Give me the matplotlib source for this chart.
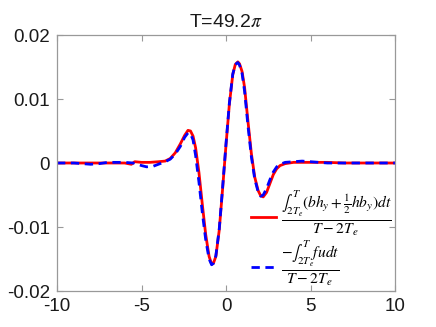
import matplotlib
matplotlib.use("Agg")
import matplotlib.pyplot as plt

# ---- data ----
x_red = [-10, -8, -6.5, -6, -5.6, -5.4, -5.0, -4.5, -4.0, -3.6, -3.3, -3.0, -2.7, -2.45,
         -2.25, -2.1, -1.95, -1.8, -1.6, -1.4, -1.2, -1.0, -0.85, -0.75, -0.6, -0.4,
         -0.2, 0.0, 0.2, 0.4, 0.55, 0.7, 0.8, 0.95, 1.1, 1.3, 1.5, 1.7, 1.9, 2.05,
         2.2, 2.4, 2.6, 2.8, 3.0, 3.2, 3.5, 4.0, 5.0, 6.0, 7.0, 10]
y_red = [0.0, 0.0, 0.0, 0.0, -0.0002, 0.0002, 0.0001, 0.0001, 0.0002, 0.0003, 0.0007,
         0.0016, 0.0030, 0.0043, 0.0051, 0.0050, 0.0042, 0.0024, -0.0015, -0.0065,
         -0.0112, -0.0146, -0.0158, -0.0157, -0.0146, -0.0105, -0.0040, 0.0028, 0.0092,
         0.0138, 0.0154, 0.0158, 0.0155, 0.0143, 0.0118, 0.0065, 0.0015, -0.0022,
         -0.0043, -0.0051, -0.0053, -0.0046, -0.0032, -0.0018, -0.0009, -0.0004,
         -0.0001, 0.0001, 0.0001, 0.0001, 0.0, 0.0]

x_blue = [-10, -9, -8, -7.5, -7, -6, -5.5, -5.0, -4.7, -4.3, -4.0, -3.6, -3.3, -3.0,
          -2.7, -2.45, -2.25, -2.1, -1.95, -1.8, -1.6, -1.4, -1.2, -1.0, -0.85, -0.75,
          -0.6, -0.4, -0.2, 0.0, 0.2, 0.4, 0.55, 0.7, 0.8, 0.95, 1.1, 1.3, 1.5, 1.7,
          1.9, 2.05, 2.2, 2.4, 2.6, 2.8, 3.0, 3.2, 3.5, 4.0, 4.5, 5.0, 5.5, 6.0, 7.0, 10]
y_blue = [0.0, 0.0, -0.0002, -0.0001, 0.0001, 0.0001, 0.0, -0.0004, -0.0006, -0.0005,
          -0.0002, 0.0002, 0.0006, 0.0014, 0.0026, 0.0040, 0.0047, 0.0046, 0.0036,
          0.0012, -0.0030, -0.0078, -0.0120, -0.0150, -0.0159, -0.0157, -0.0145,
          -0.0103, -0.0038, 0.0030, 0.0094, 0.0139, 0.0154, 0.0157, 0.0153, 0.0140,
          0.0112, 0.0058, 0.0010, -0.0025, -0.0045, -0.0052, -0.0050, -0.0040, -0.0026,
          -0.0014, -0.0006, -0.0002, 0.0001, 0.0002, 0.0003, 0.0002, 0.0001, 0.0, 0.0, 0.0]

x_ticks = [-10, -5, 0, 5, 10]
y_ticks = [-0.02, -0.01, 0, 0.01, 0.02]
y_tick_labels = ["-0.02", "-0.01", "0", "0.01", "0.02"]
x_tick_labels = ["-10", "-5", "0", "5", "10"]

title = r"T=49.2$\pi$"
label_red = r"$\frac{\int_{2T_e}^{T}(bh_y+\frac{1}{2}hb_y)dt}{T-2T_e}$"
label_blue = r"$\frac{-\int_{2T_e}^{T}fudt}{T-2T_e}$"

plt.rcParams['font.family'] = ['Liberation Sans', 'DejaVu Sans']
plt.rcParams['mathtext.fontset'] = 'stix'

fig = plt.figure(figsize=(4.36, 3.27), dpi=100)
ax = fig.add_axes([57/436, 36/327, (395-57)/436, (291-35)/327])

ax.plot(x_red, y_red, color='#ff0000', lw=2.0, label=label_red)
ax.plot(x_blue, y_blue, color='#0000ff', lw=2.0, ls=(0, (3, 2)), label=label_blue)

ax.set_xlim(-10, 10)
ax.set_ylim(-0.02, 0.02)
ax.set_xticks(x_ticks)
ax.set_xticklabels(x_tick_labels)
ax.set_yticks(y_ticks)
ax.set_yticklabels(y_tick_labels)
ax.tick_params(direction='in', length=4, width=0.8, top=True, right=True,
               labelsize=13.5, colors='#999999', labelcolor='#1a1a1a', pad=5)
for s in ax.spines.values():
    s.set_color('#999999')
    s.set_linewidth(0.9)

ax.set_title(title, fontsize=14, color='#1a1a1a', pad=6)

leg = ax.legend(loc='lower right', bbox_to_anchor=(1.0, 0.0), frameon=False,
                fontsize=16, handlelength=1.15, handletextpad=0.2, labelspacing=0.0,
                borderpad=0.15, borderaxespad=0.0)

fig.savefig("out.png", dpi=100)
